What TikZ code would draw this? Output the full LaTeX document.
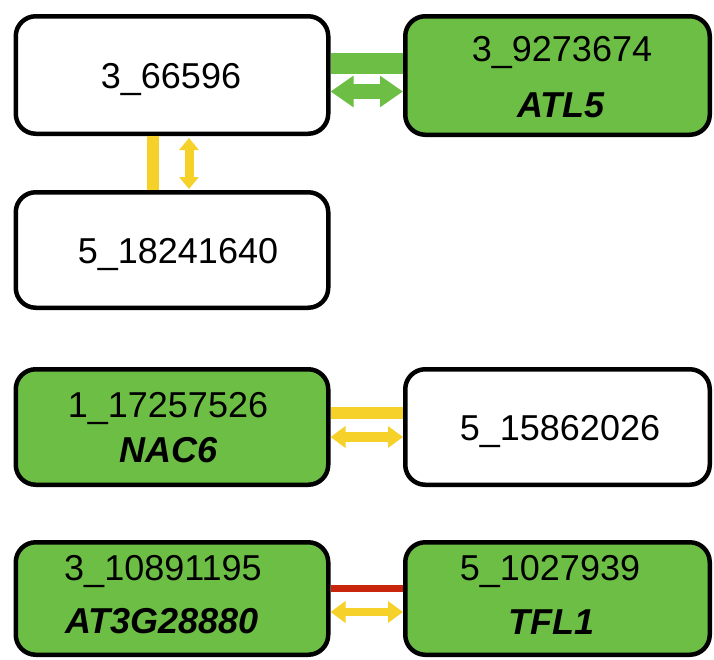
\documentclass[tikz,border=0pt]{standalone}
\usepackage{fontspec}
\setmainfont{Liberation Sans}
\usetikzlibrary{arrows.meta,calc}
\definecolor{genegreen}{RGB}{109,190,69}
\definecolor{linkyellow}{RGB}{246,209,42}
\definecolor{linkred}{RGB}{200,37,12}
\tikzset{
  box/.style={draw=black, line width=4.5pt, rounded corners=20pt, inner sep=0pt},
  leftbox/.style={box, minimum width=312.5pt},
  rightbox/.style={box, minimum width=304.5pt},
  gene/.style={fill=genegreen},
  plain/.style={fill=white},
  lbl/.style={anchor=base, inner sep=0pt, font=\fontsize{36}{40}\selectfont},
  sym/.style={lbl, font=\fontsize{36}{40}\selectfont\bfseries\itshape},
  bar/.style={line cap=butt},
}
\begin{document}
\begin{tikzpicture}[x=1pt, y=-1pt]
\useasboundingbox (0,0) rectangle (714,659);

% boxes
\node[leftbox, plain, minimum height=117.5pt] (A) at (172,75) {};
\node[rightbox, gene, minimum height=118.5pt] (B) at (557.5,75.5) {};
\node[leftbox, plain, minimum height=115.5pt] (C) at (172,250) {};
\node[leftbox, gene, minimum height=115.5pt] (D) at (172,427) {};
\node[rightbox, plain, minimum height=115.5pt] (E) at (557.5,427) {};
\node[leftbox, gene, minimum height=112.5pt] (F) at (172,598.5) {};
\node[rightbox, gene, minimum height=112.5pt] (G) at (557.5,598.5) {};

% labels
\node[lbl] (tA) at (171,88) {3\_66596};
\node[lbl] (tB) at (562,61) {3\_9273674};
\node[sym] (sB) at (561,117) {ATL5};
\node[lbl] (tC) at (178,263) {5\_18241640};
\node[lbl] (tD) at (168,417) {1\_17257526};
\node[sym] (sD) at (169,462) {NAC6};
\node[lbl] (tE) at (560,440) {5\_15862026};
\node[lbl] (tF) at (163,580) {3\_10891195};
\node[sym] (sF) at (162,633) {AT3G28880};
\node[lbl] (tG) at (550,580) {5\_1027939};
\node[sym] (sG) at (551,634) {TFL1};

% A -- B
\draw[bar, genegreen, line width=21pt]
  ([yshift=11.5pt]A.east) -- ([yshift=11.5pt]A.east -| B.west);
\draw[genegreen, line width=15pt, line cap=butt,
  {Triangle[length=23pt,width=30pt]}-{Triangle[length=23pt,width=30pt]}]
  ([yshift=-16.5pt]A.east) -- ([yshift=-16.5pt]A.east -| B.west);

% A -- C
\draw[bar, linkyellow, line width=12pt]
  ([xshift=-19pt]A.south) -- ([xshift=-19pt]A.south |- C.north);
\draw[linkyellow, line width=9pt, line cap=butt,
  {Triangle[length=12pt,width=19pt]}-{Triangle[length=12pt,width=19pt]}]
  ([xshift=17pt,yshift=-2pt]A.south) -- ([xshift=17pt,yshift=1pt]A.south |- C.north);

% D -- E
\draw[bar, linkyellow, line width=12pt]
  ([yshift=14.5pt]D.east) -- ([yshift=14.5pt]D.east -| E.west);
\draw[linkyellow, line width=10pt, line cap=butt,
  {Triangle[length=15pt,width=21pt]}-{Triangle[length=15pt,width=21pt]}]
  ([yshift=-10pt]D.east) -- ([yshift=-10pt]D.east -| E.west);

% F -- G
\draw[bar, linkred, line width=7pt]
  ([yshift=10pt]F.east) -- ([yshift=10pt]F.east -| G.west);
\draw[linkyellow, line width=8pt, line cap=butt,
  {Triangle[length=15pt,width=21pt]}-{Triangle[length=15pt,width=21pt]}]
  ([yshift=-13.5pt]F.east) -- ([yshift=-13.5pt]F.east -| G.west);
\end{tikzpicture}
\end{document}
